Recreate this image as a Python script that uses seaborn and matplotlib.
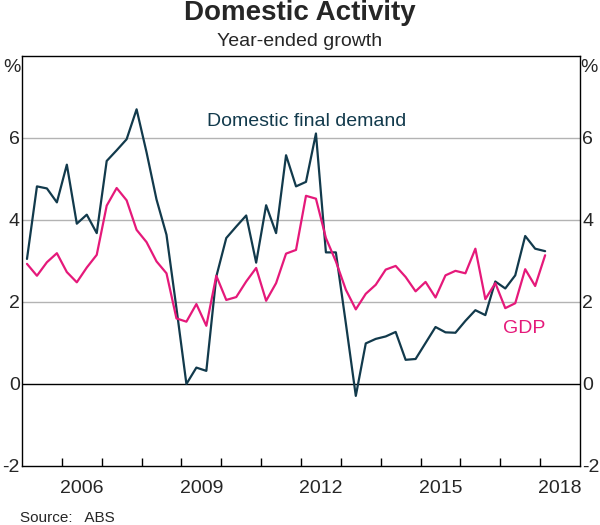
import numpy as np
import pandas as pd
import matplotlib
matplotlib.use("Agg")
import matplotlib.pyplot as plt
import seaborn as sns
from matplotlib.ticker import FixedLocator

# ---- data (year-ended growth, %), quarterly from 2005 Q1 to 2018 Q1 ----
start_year = 2005
dfd = [3.05, 4.82, 4.77, 4.43, 5.35, 3.91, 4.13, 3.68, 5.44, 5.70, 5.97, 6.70,
       5.65, 4.50, 3.64, 1.85, 0.00, 0.40, 0.32, 2.62, 3.56, 3.84, 4.11, 2.96,
       4.36, 3.68, 5.58, 4.82, 4.93, 6.11, 3.21, 3.21, 1.48, -0.29, 0.99, 1.10,
       1.16, 1.27, 0.59, 0.61, 1.00, 1.39, 1.26, 1.25, 1.54, 1.80, 1.68, 2.50,
       2.33, 2.65, 3.61, 3.30, 3.24]
gdp = [2.93, 2.64, 2.97, 3.19, 2.73, 2.48, 2.84, 3.15, 4.35, 4.78, 4.48, 3.76,
       3.46, 2.99, 2.70, 1.60, 1.52, 1.95, 1.42, 2.64, 2.05, 2.12, 2.50, 2.83,
       2.03, 2.46, 3.18, 3.27, 4.59, 4.52, 3.56, 2.99, 2.30, 1.82, 2.20, 2.42,
       2.79, 2.88, 2.61, 2.26, 2.49, 2.11, 2.65, 2.76, 2.70, 3.30, 2.07, 2.46,
       1.85, 1.97, 2.80, 2.39, 3.14]
series_names = ["Domestic final demand", "GDP"]
year_labels = [2006, 2009, 2012, 2015, 2018]
y_ticks = [-2, 0, 2, 4, 6]

n = len(dfd)
quarter_pos = [start_year + (i // 4) + (i % 4) / 4 + 0.125 for i in range(n)]
df = pd.DataFrame({
    "date": quarter_pos * 2,
    "value": dfd + gdp,
    "series": [series_names[0]] * n + [series_names[1]] * n,
})

sns.set_theme(style="white")
plt.rcParams["font.family"] = ["Liberation Sans", "DejaVu Sans"]

dark = "#123a4c"
pink = "#e5197a"

fig = plt.figure(figsize=(6, 5.25), dpi=100)
ax = fig.add_axes([22 / 600, 1 - 466 / 525, (580 - 22) / 600, (466 - 56) / 525])

# grid
for v in [2, 4, 6]:
    ax.axhline(v, color="#b3b3b3", lw=1.0, zorder=0)
ax.axhline(0, color="black", lw=1.0, zorder=1)

sns.lineplot(data=df, x="date", y="value", hue="series",
             palette={series_names[0]: dark, series_names[1]: pink},
             linewidth=1.6, legend=False, ax=ax, zorder=3)

ax.set_xlim(2005, 2019)
ax.set_ylim(-2, 8)
ax.set_xlabel("")
ax.set_ylabel("")

ax.xaxis.set_major_locator(FixedLocator([y + 0.5 for y in year_labels]))
ax.set_xticklabels([str(y) for y in year_labels])
ax.xaxis.set_minor_locator(FixedLocator(list(range(2006, 2019))))
ax.tick_params(axis="x", which="major", length=0, pad=10, labelsize=14)
ax.tick_params(axis="x", which="minor", direction="in", length=6, width=1,
               color="black", bottom=True, top=False)

ax.set_yticks(y_ticks)
ax.set_yticklabels([str(t) for t in y_ticks])
ax.tick_params(axis="y", which="major", length=0, pad=1.5, labelsize=14,
               left=True, right=True, labelleft=True, labelright=True)

for s in ax.spines.values():
    s.set_color("black")
    s.set_linewidth(1.0)

# annotations
ax.text(2009.65, 6.4, "Domestic final demand", color=dark, fontsize=14,
        ha="left", va="center")
ax.text(2017.6, 1.35, "GDP", color=pink, fontsize=14, ha="center", va="center")

fig.text(12 / 600, 1 - 68 / 525, "%", fontsize=14, ha="center", va="center")
fig.text(589 / 600, 1 - 68 / 525, "%", fontsize=14, ha="center", va="center")

fig.text(0.5, 1 - 13 / 525, "Domestic Activity", fontsize=20, fontweight="bold",
         ha="center", va="center")
fig.text(0.5, 1 - 42 / 525, "Year-ended growth", fontsize=14,
         ha="center", va="center")
fig.text(20 / 600, 1 - 518 / 525, "Source:   ABS", fontsize=11,
         ha="left", va="center")

fig.savefig("out.png", dpi=100)
